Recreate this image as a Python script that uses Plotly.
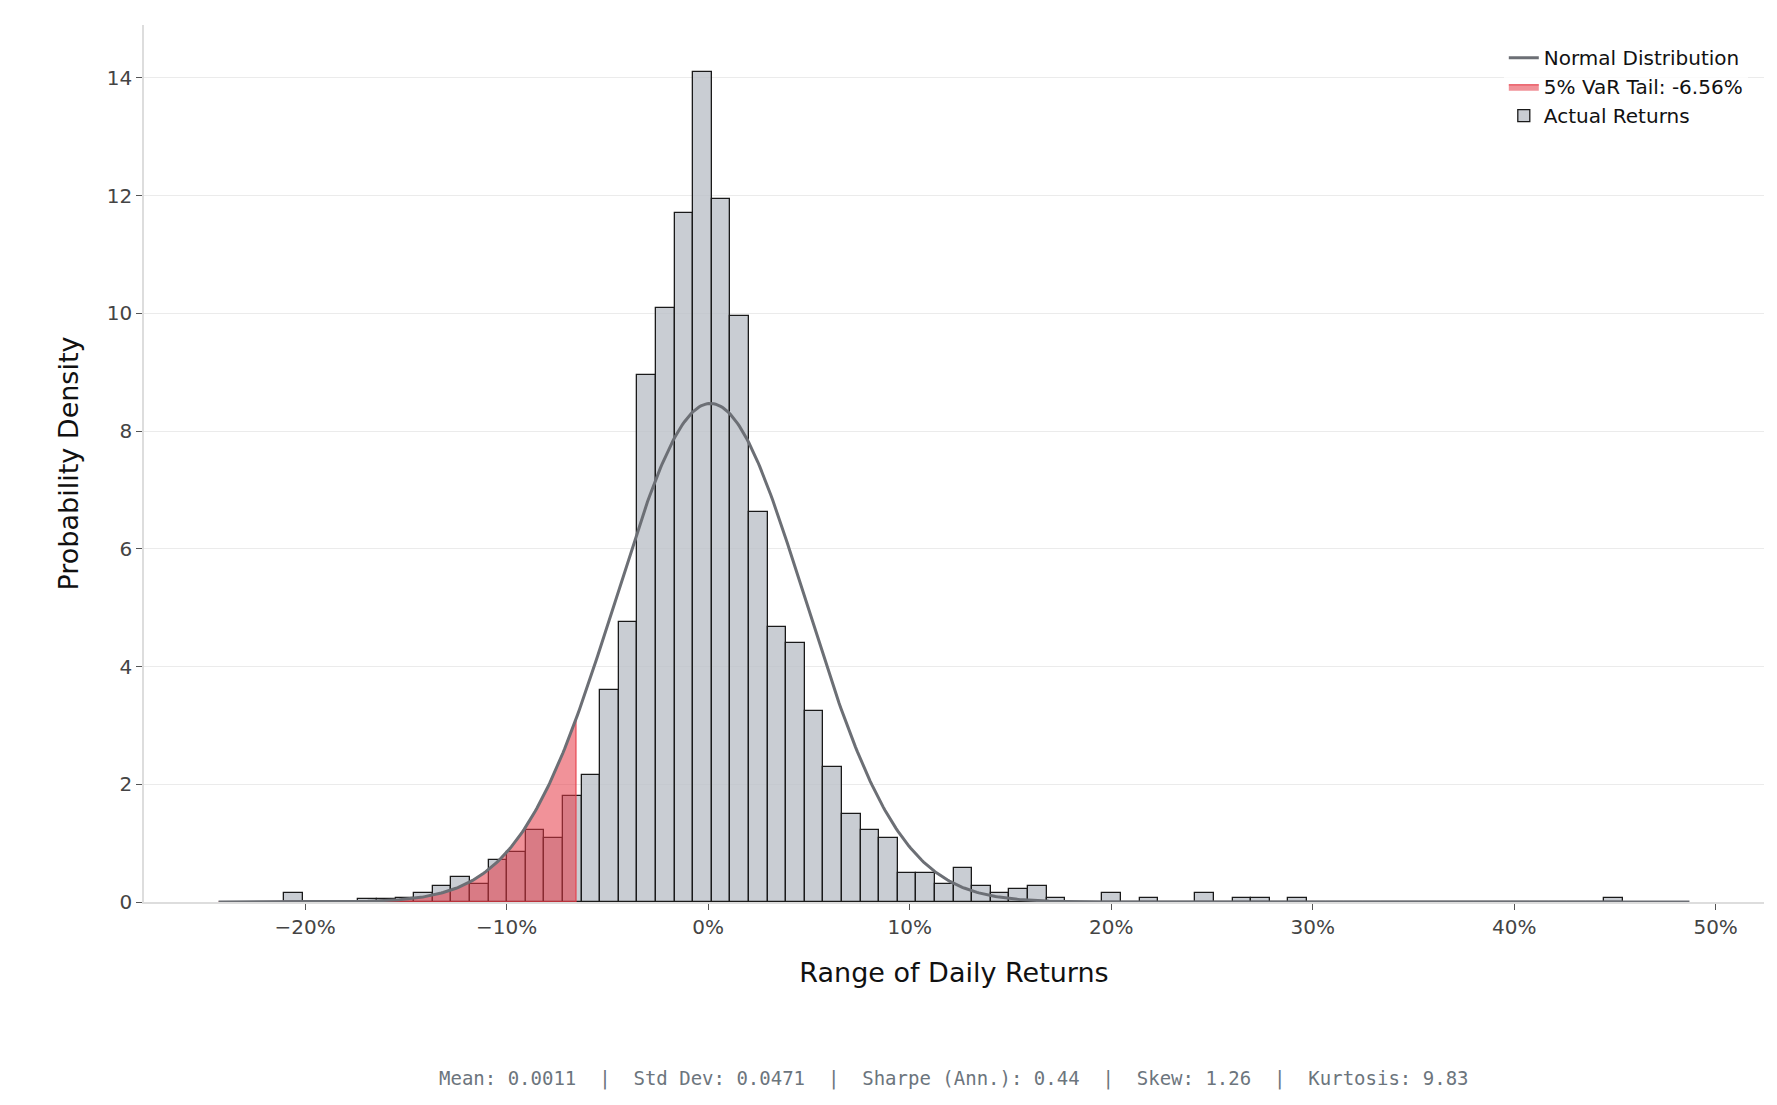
import numpy as np
import plotly.graph_objects as go

# Histogram (density)
bin_start = -0.2105
bin_width = 0.00923
densities = [0.16, 0, 0, 0, 0.05, 0.05, 0.07, 0.15, 0.28, 0.42,
             0.30, 0.72, 0.85, 1.22, 1.08, 1.80, 2.15, 3.60, 4.75, 8.95,
             10.1, 11.7, 14.1, 11.95, 9.95, 6.62, 4.68, 4.40, 3.25, 2.30,
             1.50, 1.22, 1.08, 0.50, 0.50, 0.30, 0.57, 0.28, 0.15, 0.22,
             0.28, 0.07, 0, 0, 0.15, 0, 0.07, 0, 0, 0.15,
             0, 0.07, 0.07, 0, 0.07, 0, 0, 0, 0, 0,
             0, 0, 0, 0, 0, 0, 0, 0, 0, 0,
             0, 0.07]
mean = 0.0011
std = 0.0471
var_5 = -0.0656
curve_min, curve_max = -0.243, 0.487
footer = "Mean: 0.0011  |  Std Dev: 0.0471  |  Sharpe (Ann.): 0.44  |  Skew: 1.26  |  Kurtosis: 9.83"

centers = [bin_start + bin_width * (i + 0.5) for i in range(len(densities))]
xs = np.linspace(curve_min, curve_max, 800)
pdf = np.exp(-0.5 * ((xs - mean) / std) ** 2) / (std * np.sqrt(2 * np.pi))
xt = np.linspace(curve_min, var_5, 300)
pdft = np.exp(-0.5 * ((xt - mean) / std) ** 2) / (std * np.sqrt(2 * np.pi))

fig = go.Figure()
fig.add_trace(go.Bar(x=centers, y=densities, width=bin_width, name="Actual Returns",
                     marker=dict(color="rgba(187,192,200,0.8)", line=dict(color="#1a1a1a", width=1.3)),
                     legendrank=3))
fig.add_trace(go.Scatter(x=np.concatenate([xt, [var_5, curve_min]]),
                         y=np.concatenate([pdft, [0, 0]]),
                         fill="toself", fillcolor="rgba(230,57,70,0.55)", mode="lines",
                         line=dict(color="rgba(230,57,70,0.7)", width=1.5),
                         name="5% VaR Tail: -6.56%", legendrank=2))
fig.add_trace(go.Scatter(x=xs, y=pdf, mode="lines", line=dict(color="#6c6f75", width=3),
                         name="Normal Distribution", legendrank=1))

fig.update_layout(
    width=1777, height=1105, plot_bgcolor="white", paper_bgcolor="white",
    margin=dict(l=136, r=21, t=17, b=211),
    font=dict(family="DejaVu Sans", color="#444", size=20),
    bargap=0, showlegend=True,
    legend=dict(x=0.99, y=0.985, xanchor="right", yanchor="top", font=dict(size=20, color="#111"),
                bgcolor="rgba(255,255,255,0.8)"),
    annotations=[dict(text=footer, xref="paper", yref="paper", x=0.5, y=-0.217, showarrow=False,
                      font=dict(family="DejaVu Sans Mono", size=19, color="#6c757d"), xanchor="center")],
)
fig.update_xaxes(range=[-0.28, 0.524], tickvals=[-0.2, -0.1, 0, 0.1, 0.2, 0.3, 0.4, 0.5],
                 tickformat=".0%", showgrid=False, showline=True, linecolor="#dddddd", linewidth=1.5,
                 ticks="outside", tickcolor="#555", ticklen=6, zeroline=False,
                 title=dict(text="Range of Daily Returns", font=dict(size=27, color="#111"), standoff=25))
fig.update_yaxes(range=[0, 14.9], tickvals=[0, 2, 4, 6, 8, 10, 12, 14], showgrid=True,
                 gridcolor="#ebebeb", showline=True, linecolor="#dddddd", linewidth=1.5,
                 ticks="outside", tickcolor="#555", ticklen=6, zeroline=False,
                 title=dict(text="Probability Density", font=dict(size=27, color="#111"), standoff=20))
fig.write_html("out.html")
